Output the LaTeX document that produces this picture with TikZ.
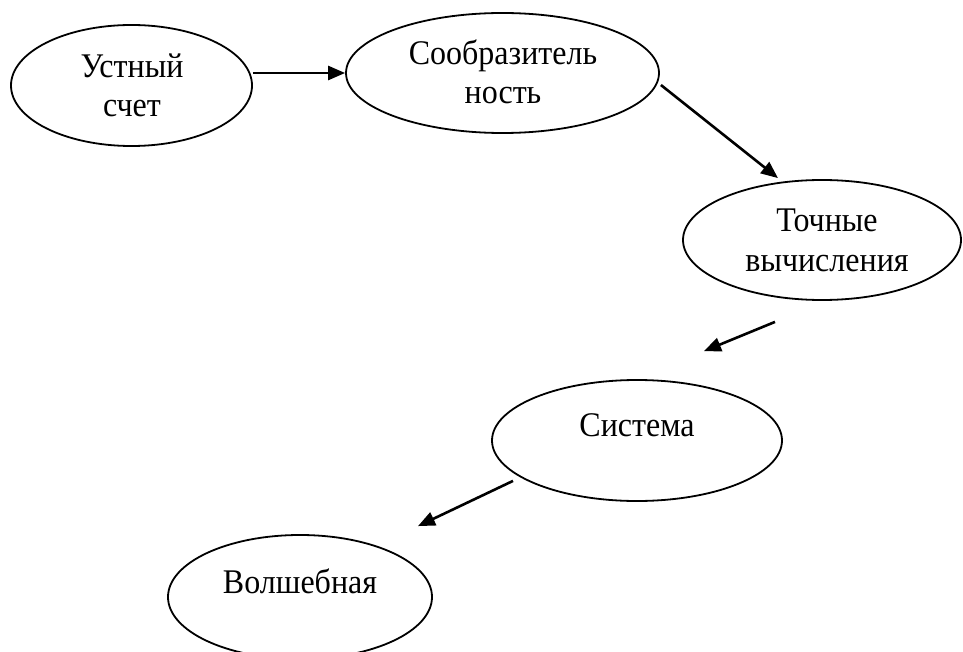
\documentclass[tikz,border=0pt]{standalone}
\usepackage{fontspec}
\setmainfont{Liberation Serif}
\usetikzlibrary{shapes.geometric,arrows.meta}
\tikzset{
  oval/.style={ellipse, draw, line width=1.8pt, inner sep=0pt},
  lbl/.style={font=\fontsize{32}{37}\selectfont, align=center, anchor=base, inner sep=0pt, yscale=1.08},
  arr/.style={line width=2.6pt, -{Triangle[length=17pt,width=14pt]}}
}
\begin{document}
\begin{tikzpicture}[x=1pt,y=-1pt]
\useasboundingbox[fill=white] (0,0) rectangle (963,652);
\node[oval, minimum width=241pt, minimum height=121pt] (e1) at (131.5,85.5) {};
\node[oval, minimum width=313pt, minimum height=120pt] (e2) at (502.5,73) {};
\node[oval, minimum width=278pt, minimum height=120pt] (e3) at (822,240) {};
\node[oval, minimum width=290pt, minimum height=121pt] (e4) at (637,440.5) {};
\node[oval, minimum width=264pt, minimum height=124pt] (e5) at (300,597) {};
\node[lbl] (t1) at (132,117) {Устный\\счет};
\node[lbl] (t2) at (503,104) {Сообразитель\\ность};
\node[lbl] (t3) at (827,271) {Точные\\вычисления};
\node[lbl] (t4) at (637,436) {Система};
\node[lbl] (t5) at (300,593) {Волшебная};
\draw[arr] ([yshift=12.5pt]e1.east) -- (e2.west);
\draw[arr] ([xshift=1pt,yshift=-12pt]e2.east) -- ([xshift=-44pt,yshift=1pt]e3.north);
\draw[arr] ([xshift=-47pt,yshift=-21pt]e3.south) -- ([xshift=67pt,yshift=28pt]e4.north);
\draw[arr] ([xshift=-124pt,yshift=21pt]e4.south) -- ([xshift=118pt,yshift=8pt]e5.north);
\end{tikzpicture}
\end{document}
